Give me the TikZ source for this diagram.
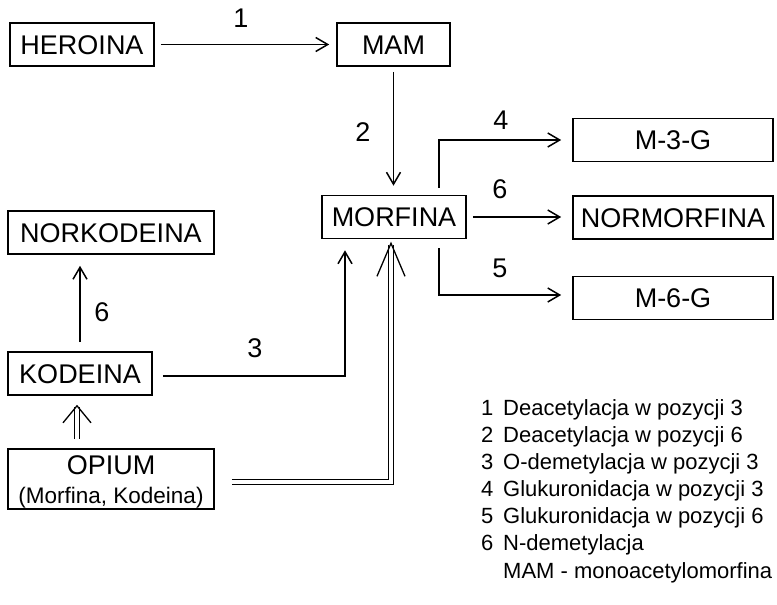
\documentclass[tikz,border=0pt]{standalone}
\usepackage{fontspec}
\setmainfont{Liberation Sans}
\usetikzlibrary{arrows.meta,calc}
\begin{document}
\begin{tikzpicture}[x=1pt,y=-1pt,
 box/.style={draw, line width=1.6pt, inner sep=0pt, minimum height=43pt, font=\fontsize{27}{30}\selectfont, text height=19.3pt, text depth=0pt},
 conn/.style={line width=1.5pt, -{Straight Barb[length=12pt,width=14pt]}},
 num/.style={font=\fontsize{27}{30}\selectfont, inner sep=0pt, text height=19.3pt, text depth=0pt},
 leg/.style={font=\fontsize{22}{26}\selectfont, inner sep=0pt, anchor=base west},
 dbl/.style={double, double distance=3.5pt, line width=1.2pt, line join=miter},
 dhead/.style={line width=1.3pt, line join=miter}]
\useasboundingbox (0,0) rectangle (777,605);
% boxes
\node[box, minimum width=144pt] (heroina) at (82,44.5) {HEROINA};
\node[box, minimum width=113pt] (mam) at (393.5,44.5) {MAM};
\node[box, minimum width=144pt] (morfina) at (394,217) {MORFINA};
\node[box, minimum width=200pt] (m3g) at (673,140) {M-3-G};
\node[box, minimum width=200pt] (normorfina) at (673,217.5) {NORMORFINA};
\node[box, minimum width=200pt] (m6g) at (673,298) {M-6-G};
\node[box, minimum width=206pt] (norkodeina) at (111,232.5) {NORKODEINA};
\node[box, minimum width=144pt] (kodeina) at (80,373.5) {KODEINA};
\node[box, minimum width=206pt, minimum height=60pt] (opium) at (111,479) {};
\node[num] (opiumt) at (111,465) {OPIUM};
\node[font=\fontsize{22.5}{26}\selectfont, inner sep=0pt, text height=16pt, text depth=0pt] (opiumsub) at (111,495) {(Morfina, Kodeina)};
% number labels
\node[num] (n1) at (241,18) {1};
\node[num] (n2) at (363,132) {2};
\node[num] (n4) at (501,120) {4};
\node[num] (n6a) at (500,189) {6};
\node[num] (n5) at (500,268) {5};
\node[num] (n6b) at (102,312) {6};
\node[num] (n3) at (255,348) {3};
% connectors
\draw[conn, shorten <=6pt, shorten >=7pt] (heroina.east) -- (heroina.east -| mam.west);
\draw[conn, shorten <=5pt, shorten >=9pt] (mam.south) -- (mam.south |- morfina.north);
\draw[conn, shorten <=6pt, shorten >=11pt] (morfina.east) -- (morfina.east -| normorfina.west);
\coordinate (c4) at ($(morfina.north)+(45,-7)$);
\draw[conn, shorten >=11pt] (c4) |- (m3g.west);
\coordinate (c5) at ($(morfina.south)+(45,9)$);
\coordinate (c5e) at ($(m6g.west)+(0,-3)$);
\draw[conn, shorten >=11pt] (c5) |- (c5e);
\draw[conn, shorten <=9pt, shorten >=11pt] (kodeina.north) -- (kodeina.north |- norkodeina.south);
\coordinate (c3s) at ($(kodeina.east)+(0,2.5)$);
\coordinate (c3e) at ($(morfina.south)+(-49,11)$);
\draw[conn, shorten <=10pt] (c3s) -| (c3e);
% double arrows
\coordinate (tk) at ($(kodeina.south)+(-3,10)$);
\coordinate (ok) at ($(opium.north)+(-34,-9)$);
\draw[dbl] (ok) -- ($(tk)+(0,1.5)$);
\draw[dhead] ($(tk)+(-14,17)$) -- (tk) -- ($(tk)+(14,17)$);
\coordinate (tm) at ($(morfina.south)+(-3,4)$);
\coordinate (om) at ($(opium.east)+(17,3)$);
\draw[dbl] (om) -| ($(tm)+(0,1.5)$);
\draw[dhead] ($(tm)+(-14,33)$) -- (tm) -- ($(tm)+(14,33)$);
% legend
\node[leg] (l1n) at (481,415) {1};
\node[leg] (l1t) at (503,415) {Deacetylacja w pozycji 3};
\node[leg] (l2n) at (481,442.2) {2};
\node[leg] (l2t) at (503,442.2) {Deacetylacja w pozycji 6};
\node[leg] (l3n) at (481,469.3) {3};
\node[leg] (l3t) at (503,469.3) {O-demetylacja w pozycji 3};
\node[leg] (l4n) at (481,496.5) {4};
\node[leg] (l4t) at (503,496.5) {Glukuronidacja w pozycji 3};
\node[leg] (l5n) at (481,523.7) {5};
\node[leg] (l5t) at (503,523.7) {Glukuronidacja w pozycji 6};
\node[leg] (l6n) at (481,550.8) {6};
\node[leg] (l6t) at (503,550.8) {N-demetylacja};
\node[leg] (l7t) at (503,578) {MAM - monoacetylomorfina};
\end{tikzpicture}
\end{document}
